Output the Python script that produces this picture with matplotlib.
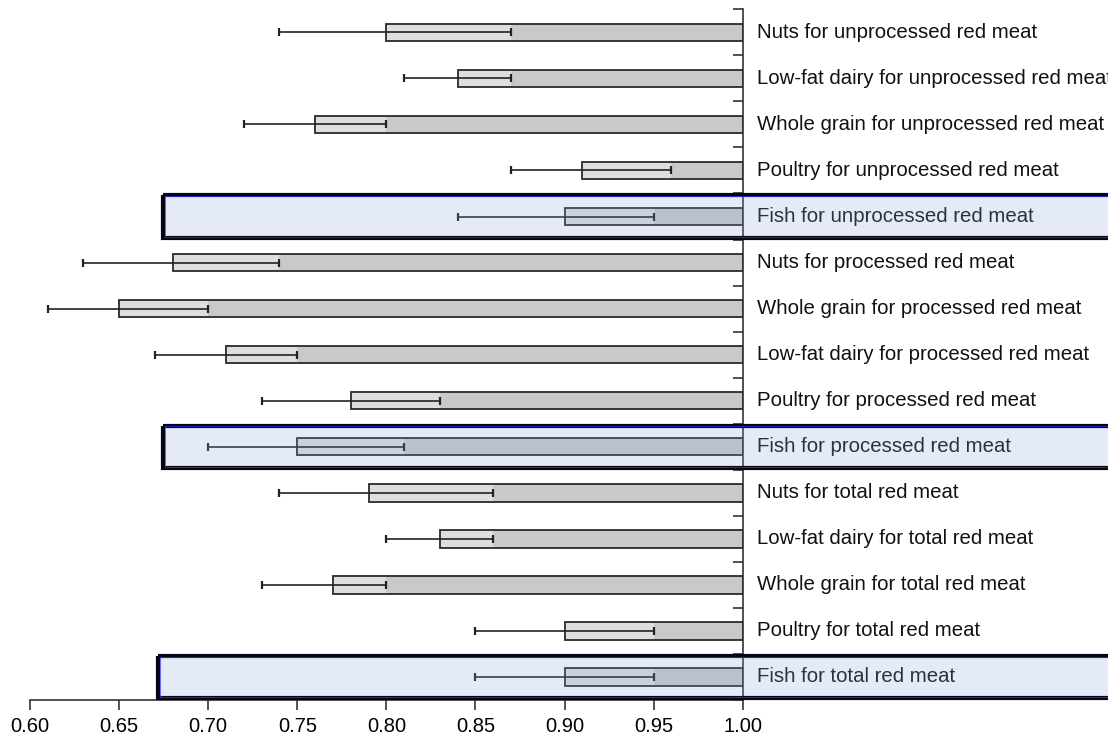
import numpy as np
import matplotlib.pyplot as plt
from matplotlib.patches import Rectangle

plt.rcParams['font.family'] = ['Liberation Sans', 'DejaVu Sans']

# substitution estimates (top to bottom), lower and upper CI
labels = ['Nuts for unprocessed red meat',
          'Low-fat dairy for unprocessed red meat',
          'Whole grain for unprocessed red meat',
          'Poultry for unprocessed red meat',
          'Fish for unprocessed red meat',
          'Nuts for processed red meat',
          'Whole grain for processed red meat',
          'Low-fat dairy for processed red meat',
          'Poultry for processed red meat',
          'Fish for processed red meat',
          'Nuts for total red meat',
          'Low-fat dairy for total red meat',
          'Whole grain for total red meat',
          'Poultry for total red meat',
          'Fish for total red meat']
est = [0.80, 0.84, 0.76, 0.91, 0.90, 0.68, 0.65, 0.71, 0.78, 0.75, 0.79, 0.83, 0.77, 0.90, 0.90]
lo = [0.74, 0.81, 0.72, 0.87, 0.84, 0.63, 0.61, 0.67, 0.73, 0.70, 0.74, 0.80, 0.73, 0.85, 0.85]
hi = [0.87, 0.87, 0.80, 0.96, 0.95, 0.74, 0.70, 0.75, 0.83, 0.81, 0.86, 0.86, 0.80, 0.95, 0.95]
highlight = [4, 9, 14]
box_left = [0.6747, 0.6747, 0.672]

fig = plt.figure(figsize=(11.08, 7.41), dpi=100)
ax = fig.add_axes([30/1108, 41/741, 712.7/1108, 690.7/741])

y = np.arange(len(labels))
h = 0.38
ax.barh(y, np.array(hi) - np.array(est), left=est, height=h, color='#dedede', lw=0, zorder=2)
ax.barh(y, 1.0 - np.array(hi), left=hi, height=h, color='#c9c9c9', lw=0, zorder=2)
ax.barh(y, 1.0 - np.array(est), left=est, height=h, facecolor='none', edgecolor='#2a2a2a', lw=1.3, zorder=3)
ax.errorbar(est, y, xerr=[np.array(est) - np.array(lo), np.array(hi) - np.array(est)],
            fmt='none', ecolor='#222222', elinewidth=1.2, capsize=3, capthick=1.6, zorder=4)

for i in y:
    ax.annotate(labels[i], xy=(1.0, i), xytext=(10, 0), textcoords='offset points',
                va='center', ha='left', fontsize=14.7, color='#111111', annotation_clip=False)

for k, i in enumerate(highlight):
    ax.add_patch(Rectangle((box_left[k], i - 0.46), 1.3 - box_left[k], 0.92,
                           facecolor='#8da8da', alpha=0.22, edgecolor='none',
                           zorder=5, clip_on=False))
    ax.add_patch(Rectangle((box_left[k], i - 0.46), 1.3 - box_left[k], 0.92,
                           facecolor='none', edgecolor='#05051a', lw=3,
                           zorder=6, clip_on=False))
    ax.add_patch(Rectangle((box_left[k] + 0.0009, i - 0.44), 1.3 - box_left[k], 0.88,
                           facecolor='none', edgecolor='#3a3aff', lw=0.5,
                           zorder=7, clip_on=False))

ax.set_xlim(0.6, 1.0)
ax.set_ylim(len(labels) - 0.5, -0.5)
ax.set_xticks(np.arange(0.60, 1.001, 0.05))
ax.set_xticklabels(['%.2f' % v for v in np.arange(0.60, 1.001, 0.05)], fontsize=14.5)
ax.tick_params(axis='x', length=7, width=1.2, color='#333333', pad=5)

ax.yaxis.tick_right()
ax.set_yticks(np.arange(-0.5, len(labels), 1.0))
ax.set_yticklabels([])
ax.tick_params(axis='y', direction='in', length=7, width=1.2, color='#333333')

ax.spines['top'].set_visible(False)
ax.spines['left'].set_visible(False)
ax.spines['right'].set_linewidth(1.2)
ax.spines['right'].set_color('#333333')
ax.spines['bottom'].set_linewidth(1.2)
ax.spines['bottom'].set_color('#333333')
ax.patch.set_visible(False)

plt.savefig('out.png', dpi=100)
